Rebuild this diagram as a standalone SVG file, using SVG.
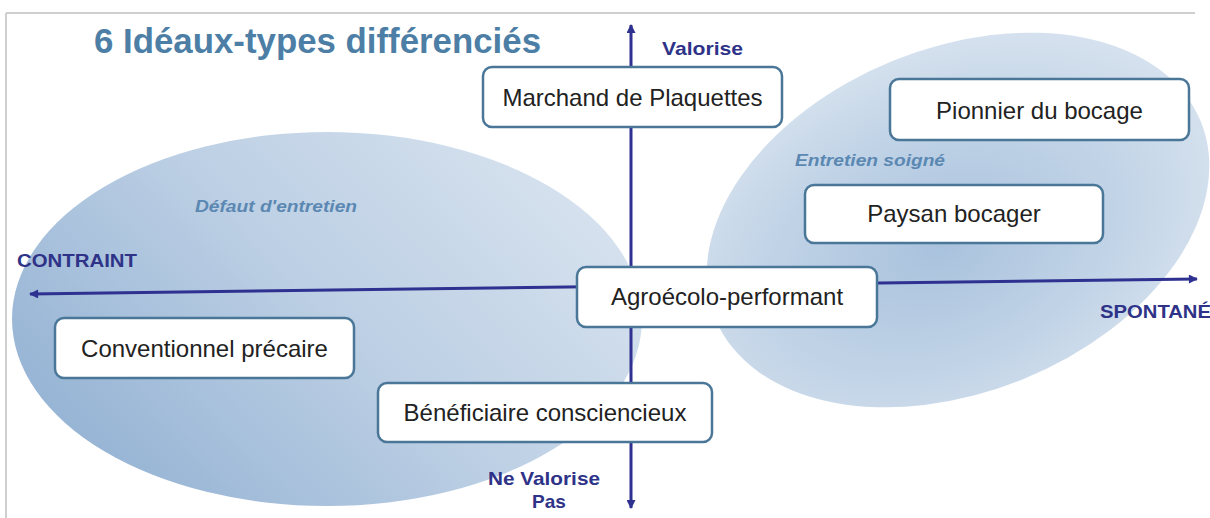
<svg xmlns="http://www.w3.org/2000/svg" width="1210" height="518" viewBox="0 0 1210 518">
<defs>
<linearGradient id="gLeft" x1="0" y1="0.7" x2="0.95" y2="0.15">
<stop offset="0" stop-color="#95b3d4"/>
<stop offset="0.5" stop-color="#bccfe4"/>
<stop offset="1" stop-color="#d8e3ef"/>
</linearGradient>
<radialGradient id="gRight" cx="0.45" cy="0.55" r="0.6">
<stop offset="0" stop-color="#a9c2dd"/>
<stop offset="0.6" stop-color="#c2d4e7"/>
<stop offset="1" stop-color="#d8e3ef"/>
</radialGradient>
<marker id="arr" viewBox="0 0 10 10" refX="9" refY="5" markerWidth="11" markerHeight="9" orient="auto-start-reverse" markerUnits="userSpaceOnUse">
<path d="M0,0 L10,5 L0,10 z" fill="#2e3190"/>
</marker>
<style>
.box{fill:#ffffff;stroke:#4a7698;stroke-width:2.5}
.bt{font-family:"Liberation Sans",Arial,sans-serif;font-size:24px;fill:#222222;text-anchor:middle}
.ax{font-family:"Liberation Sans",Arial,sans-serif;font-size:19px;font-weight:bold;fill:#2e3388}
.zone{font-family:"Liberation Sans",Arial,sans-serif;font-size:16px;font-weight:bold;font-style:italic;fill:#5b88b2}
.axis{stroke:#2e3190;stroke-width:3;fill:none}
</style>
</defs>
<rect x="0" y="0" width="1210" height="518" fill="#ffffff"/>
<g id="frame">
<line x1="6" y1="13" x2="1195" y2="13" stroke="#cfcfcf" stroke-width="2"/>
<line x1="6" y1="13" x2="6" y2="518" stroke="#cfcfcf" stroke-width="2"/>
</g>
<g id="regions">
<ellipse id="zone-defaut" cx="327" cy="319" rx="315" ry="187" fill="url(#gLeft)"/>
<ellipse id="zone-soigne" cx="958" cy="220" rx="262" ry="172" transform="rotate(-22 958 220)" fill="url(#gRight)"/>
</g>
<text x="94" y="53" font-family="'Liberation Sans',Arial,sans-serif" font-size="35" font-weight="bold" fill="#4d7fa6" textLength="447" lengthAdjust="spacingAndGlyphs">6 Idéaux-types différenciés</text>
<text class="zone" x="195" y="212" textLength="162" lengthAdjust="spacingAndGlyphs">Défaut d'entretien</text>
<text class="zone" x="795" y="166" textLength="150" lengthAdjust="spacingAndGlyphs">Entretien soigné</text>
<g id="connectors">
<line class="axis" x1="631" y1="508" x2="631" y2="25" marker-start="url(#arr)" marker-end="url(#arr)"/>
<line class="axis" x1="30" y1="294" x2="1197" y2="279" marker-start="url(#arr)" marker-end="url(#arr)"/>
</g>
<g id="axis-labels">
<text class="ax" x="662" y="55" textLength="81" lengthAdjust="spacingAndGlyphs">Valorise</text>
<text class="ax" x="17" y="267" textLength="120" lengthAdjust="spacingAndGlyphs">CONTRAINT</text>
<text class="ax" x="1100" y="318" textLength="111" lengthAdjust="spacingAndGlyphs">SPONTANÉ</text>
<text class="ax" x="544" y="485" text-anchor="middle" textLength="112" lengthAdjust="spacingAndGlyphs">Ne Valorise</text>
<text class="ax" x="549" y="508" text-anchor="middle">Pas</text>
</g>
<g id="node-marchand">
<rect class="box" x="483" y="67" width="299" height="60" rx="9"/>
<text class="bt" x="632.5" y="106">Marchand de Plaquettes</text>
</g>
<g id="node-pionnier">
<rect class="box" x="890" y="79" width="299" height="61" rx="9"/>
<text class="bt" x="1039.5" y="119">Pionnier du bocage</text>
</g>
<g id="node-paysan">
<rect class="box" x="805" y="185" width="298" height="58" rx="9"/>
<text class="bt" x="954" y="222">Paysan bocager</text>
</g>
<g id="node-agroecolo">
<rect class="box" x="577" y="267" width="300" height="60" rx="9"/>
<text class="bt" x="727" y="305">Agroécolo-performant</text>
</g>
<g id="node-conventionnel">
<rect class="box" x="55" y="318" width="299" height="60" rx="9"/>
<text class="bt" x="204.5" y="357">Conventionnel précaire</text>
</g>
<g id="node-beneficiaire">
<rect class="box" x="378" y="383" width="334" height="59" rx="9"/>
<text class="bt" x="545" y="421">Bénéficiaire consciencieux</text>
</g>
</svg>
